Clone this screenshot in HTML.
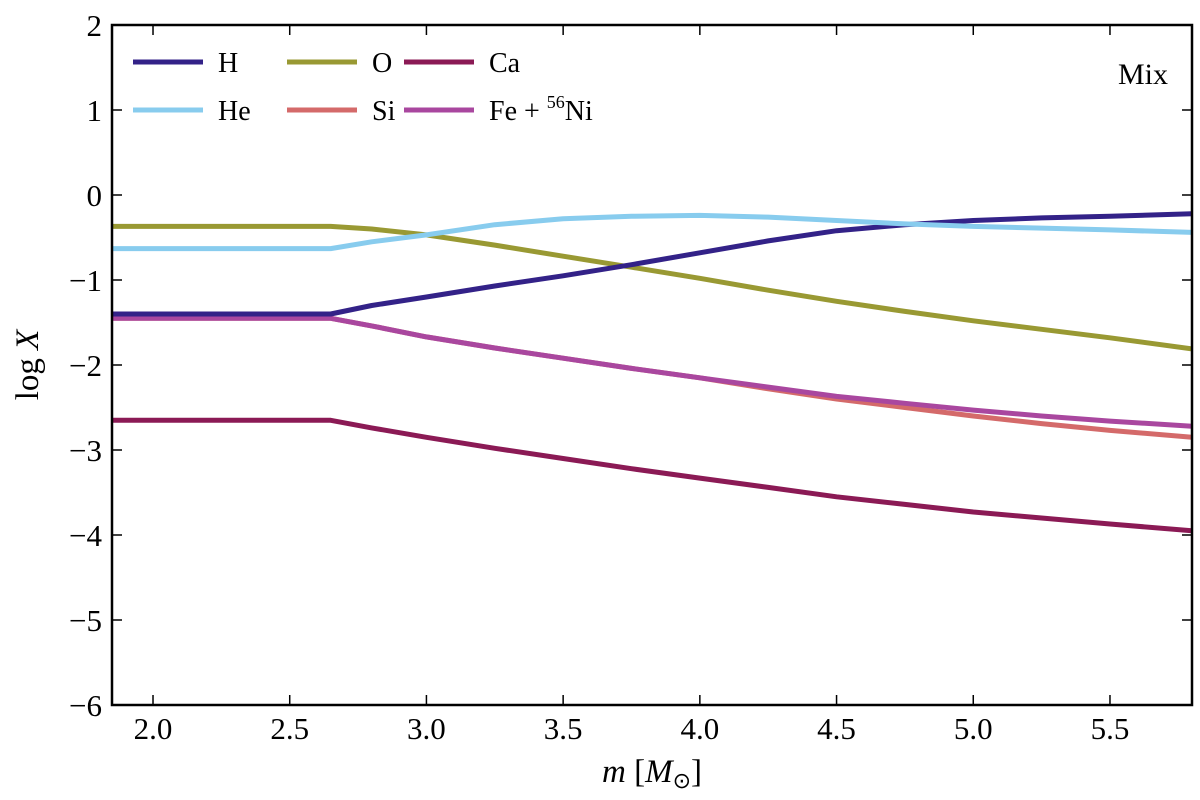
<!DOCTYPE html>
<html><head><meta charset="utf-8"><style>
body{margin:0;background:#fff}
svg text{font-family:"Liberation Serif",serif;fill:#000}
</style></head><body>
<svg id="chart" width="1200" height="795">
<g id="plot"></g>
</svg>
<script>
const xs=[1.85,2.65,2.8,3.0,3.25,3.5,3.75,4.0,4.25,4.5,4.75,5.0,5.25,5.5,5.8];
const seriesNames=["H","He","O","Ca","Si","Fe + 56Ni"];
const hVals=[-1.4,-1.4,-1.3,-1.2,-1.07,-0.95,-0.82,-0.68,-0.54,-0.42,-0.35,-0.3,-0.27,-0.25,-0.22];
const heVals=[-0.63,-0.63,-0.55,-0.47,-0.35,-0.28,-0.25,-0.24,-0.26,-0.3,-0.34,-0.37,-0.39,-0.41,-0.44];
const oVals=[-0.37,-0.37,-0.4,-0.47,-0.59,-0.72,-0.85,-0.98,-1.12,-1.25,-1.37,-1.48,-1.58,-1.68,-1.81];
const siVals=[-1.45,-1.45,-1.54,-1.67,-1.8,-1.92,-2.04,-2.15,-2.28,-2.4,-2.5,-2.6,-2.69,-2.77,-2.85];
const feVals=[-1.45,-1.45,-1.54,-1.67,-1.8,-1.92,-2.04,-2.15,-2.26,-2.37,-2.45,-2.53,-2.6,-2.66,-2.72];
const caVals=[-2.65,-2.65,-2.74,-2.85,-2.98,-3.1,-3.22,-3.33,-3.44,-3.55,-3.64,-3.73,-3.8,-3.87,-3.95];
const xTicks=[2.0,2.5,3.0,3.5,4.0,4.5,5.0,5.5];
const yTicks=[2,1,0,-1,-2,-3,-4,-5,-6];
const L=112,R=1192,T=25,B=705,xmin=1.85,xmax=5.8,ymin=-6,ymax=2;
const X=v=>L+(v-xmin)/(xmax-xmin)*(R-L);
const Y=v=>B-(v-ymin)/(ymax-ymin)*(B-T);
const NS="http://www.w3.org/2000/svg";
const g=document.getElementById('plot');
function mk(t,a,p){const e=document.createElementNS(NS,t);for(const k in a)e.setAttribute(k,a[k]);(p||g).appendChild(e);return e;}
const clip=mk('clipPath',{id:'c'});mk('rect',{x:L,y:T,width:R-L,height:B-T},clip);
function curve(vals,color,name){const d=xs.map((x,i)=>(i?'L':'M')+X(x).toFixed(1)+','+Y(vals[i]).toFixed(1)).join('');
const p=mk('path',{d:d,fill:'none',stroke:color,'stroke-width':5,'stroke-linejoin':'round','clip-path':'url(#c)'});

}
curve(caVals,'#8b1a55','line-ca');
curve(siVals,'#d46a6a','line-si');
curve(feVals,'#a9479f','line-fe-ni');
curve(oVals,'#999933','line-o');
curve(hVals,'#332288','line-h');
curve(heVals,'#88ccee','line-he');
const fr=mk('rect',{x:L,y:T,width:R-L,height:B-T,fill:'none',stroke:'#000','stroke-width':2.5});


xTicks.forEach(v=>{const x=X(v);mk('line',{x1:x,x2:x,y1:B,y2:B-10,stroke:'#000','stroke-width':1.5});mk('line',{x1:x,x2:x,y1:T,y2:T+10,stroke:'#000','stroke-width':1.5});
const t=mk('text',{x:x,y:B+34,'text-anchor':'middle','font-size':31});t.textContent=v.toFixed(1);

});
yTicks.forEach(v=>{const y=Y(v);mk('line',{x1:L,x2:L+10,y1:y,y2:y,stroke:'#000','stroke-width':1.5});mk('line',{x1:R,x2:R-10,y1:y,y2:y,stroke:'#000','stroke-width':1.5});
const t=mk('text',{x:L-10,y:y+11,'text-anchor':'end','font-size':31});t.textContent=(v<0?'\u2212':'')+Math.abs(v);

});
const xl=mk('text',{x:652,y:782,'text-anchor':'middle','font-size':33});xl.innerHTML='<tspan font-style="italic">m</tspan> [<tspan font-style="italic">M</tspan><tspan font-size="22" dy="6">\u2299</tspan><tspan dy="-6">]</tspan>';


const yl=mk('text',{transform:'translate(38,365) rotate(-90)','text-anchor':'middle','font-size':33});yl.innerHTML='log <tspan font-style="italic">X</tspan>';


const mix=mk('text',{x:1168,y:84,'text-anchor':'end','font-size':30});mix.textContent='Mix';


const leg=[["H",'#332288',133,62],["He",'#88ccee',133,110],["O",'#999933',287,62],["Si",'#d46a6a',287,110],["Ca",'#8b1a55',404,62],["Fe",'#a9479f',404,110]];
leg.forEach(e=>{const gg=mk('g',{});


mk('line',{x1:e[2],x2:e[2]+70,y1:e[3],y2:e[3],stroke:e[1],'stroke-width':5},gg);
const t=mk('text',{x:e[2]+85,y:e[3]+10,'font-size':28},gg);
if(e[0]==='Fe')t.innerHTML='Fe + <tspan font-size="18" dy="-12">56</tspan><tspan dy="12">Ni</tspan>';else t.textContent=e[0];});
</script>
</body></html>
